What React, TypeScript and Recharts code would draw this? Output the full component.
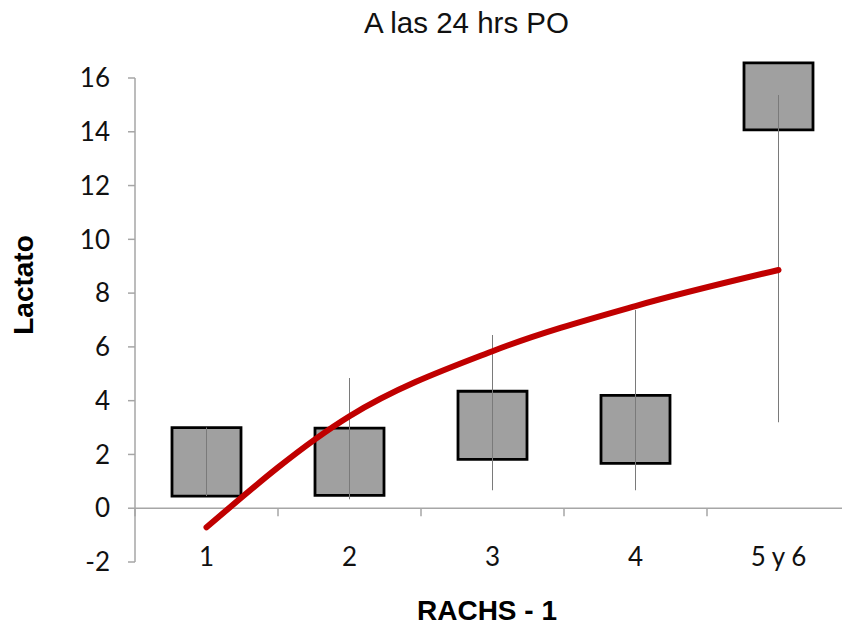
import { Bar, ComposedChart, Label, Line, ReferenceLine, XAxis, YAxis } from 'recharts'

const CATEGORIES = ['1', '2', '3', '4', '5 y 6']
// box = open/close band, range = high-low line
const BOX_LOW = [0.45, 0.48, 1.82, 1.67, 14.07]
const BOX_HIGH = [3.0, 2.98, 4.35, 4.2, 16.56]
const RANGE_LOW = [0.45, 0.33, 0.67, 0.67, 3.2]
const RANGE_HIGH = [3.0, 4.84, 6.44, 7.37, 15.37]
// logarithmic trend line, read at each category
const TREND = [-0.71, 3.42, 5.84, 7.52, 8.86]
const Y_TICKS = [-2, 0, 2, 4, 6, 8, 10, 12, 14, 16]

const data = CATEGORIES.map((cat, i) => ({
  cat,
  box: [BOX_LOW[i], BOX_HIGH[i]],
  range: [RANGE_LOW[i], RANGE_HIGH[i]],
  trend: TREND[i],
}))

const CHART_W = 850
const CHART_H = 626
const PLOT_LEFT = 135
const PLOT_TOP = 78
const PLOT_BOTTOM = 562
const AXIS_COLOR = '#a6a6a6'
const TICK_FONT = 'Lato, "Open Sans", sans-serif'
const LABEL_FONT = '"Liberation Sans", Arial, sans-serif'

const Y_MIN = Y_TICKS[0]
const Y_MAX = Y_TICKS[Y_TICKS.length - 1]
const ZERO_Y = PLOT_TOP + ((Y_MAX - 0) / (Y_MAX - Y_MIN)) * (PLOT_BOTTOM - PLOT_TOP)

// the last box pokes out above the 16 line, like in the original
const noClip = '.recharts-bar, .recharts-bar * { clip-path: none !important; }'

function CategoryTick(props: any) {
  const { x, payload } = props
  const half = (CHART_W - PLOT_LEFT) / CATEGORIES.length / 2
  return (
    <g>
      <line x1={x - half} x2={x - half} y1={ZERO_Y} y2={ZERO_Y + 8} stroke={AXIS_COLOR} strokeWidth={1.5} />
      <text
        x={x}
        y={PLOT_BOTTOM - 6}
        textAnchor="middle"
        dominantBaseline="central"
        fontSize={26}
        fontFamily={TICK_FONT}
        fill="#111"
      >
        {payload.value}
      </text>
    </g>
  )
}

export default function App() {
  return (
    <div style={{ position: 'absolute', left: 0, top: 0, width: 842, height: 626, overflow: 'hidden', background: '#fff' }}>
      <style>{noClip}</style>
      <div
        style={{
          position: 'absolute',
          left: 0,
          top: 3,
          width: 933,
          textAlign: 'center',
          fontFamily: LABEL_FONT,
          fontSize: 29.5,
          lineHeight: '40px',
          color: '#111',
        }}
      >
        A las 24 hrs PO
      </div>
      <ComposedChart
        width={CHART_W}
        height={CHART_H}
        data={data}
        margin={{ top: PLOT_TOP, right: 0, bottom: 24, left: 60 }}
        style={{ position: 'absolute', left: 0, top: 0 }}
      >
        <XAxis dataKey="cat" height={40} axisLine={false} tickLine={false} tick={<CategoryTick />} interval={0}>
          <Label
            content={() => (
              <text x={487} y={620} textAnchor="middle" fontSize={28} fontWeight="bold" fontFamily={LABEL_FONT} fill="#000">
                RACHS - 1
              </text>
            )}
          />
        </XAxis>
        <XAxis xAxisId="w" dataKey="cat" hide />
        <YAxis
          width={75}
          domain={[Y_MIN, Y_MAX]}
          ticks={Y_TICKS}
          interval={0}
          allowDataOverflow
          stroke={AXIS_COLOR}
          axisLine={{ stroke: AXIS_COLOR, strokeWidth: 1.5 }}
          tickLine={{ stroke: AXIS_COLOR, strokeWidth: 1.5 }}
          tickSize={7}
          tickMargin={18}
          tick={{ fontSize: 26, fontFamily: TICK_FONT, fill: '#111' }}
        >
          <Label
            content={() => (
              <text
                x={23}
                y={285}
                transform="rotate(-90 23 285)"
                textAnchor="middle"
                dominantBaseline="central"
                fontSize={28}
                fontWeight="bold"
                fontFamily={LABEL_FONT}
                fill="#000"
              >
                Lactato
              </text>
            )}
          />
        </YAxis>
        <ReferenceLine y={0} stroke={AXIS_COLOR} strokeWidth={1.5} />
        <Bar dataKey="box" barSize={69} fill="#a0a0a0" stroke="#000" strokeWidth={2.8} isAnimationActive={false} />
        <Bar xAxisId="w" dataKey="range" barSize={1} fill="#7a7a7a" isAnimationActive={false} />
        <Line
          type="monotone"
          dataKey="trend"
          stroke="#c00000"
          strokeWidth={6}
          strokeLinecap="round"
          dot={false}
          activeDot={false}
          isAnimationActive={false}
        />
      </ComposedChart>
    </div>
  )
}
